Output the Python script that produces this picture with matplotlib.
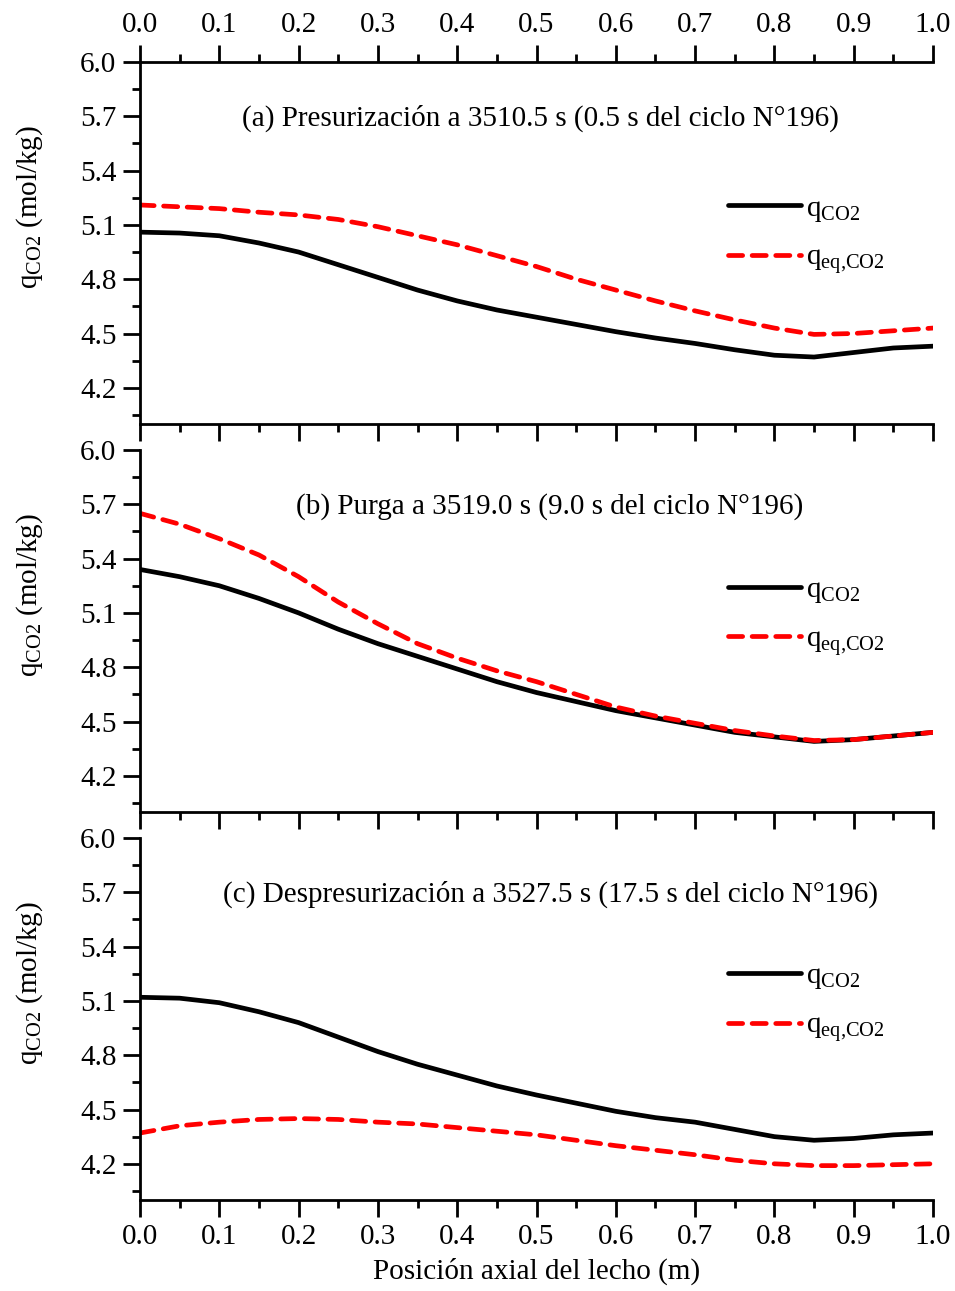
import matplotlib
matplotlib.use("Agg")
import matplotlib.pyplot as plt
from matplotlib.ticker import MultipleLocator, FormatStrFormatter

plt.rcParams['font.family'] = ['Liberation Serif', 'DejaVu Serif']
plt.rcParams['mathtext.fontset'] = 'custom'
plt.rcParams['mathtext.rm'] = 'Liberation Serif'
plt.rcParams['mathtext.it'] = 'Liberation Serif:italic'

x = [0.0, 0.05, 0.1, 0.15, 0.2, 0.25, 0.3, 0.35, 0.4, 0.45, 0.5,
     0.55, 0.6, 0.65, 0.7, 0.75, 0.8, 0.85, 0.9, 0.95, 1.0]

# (a) presurizacion
q_a = [5.06, 5.055, 5.04, 5.00, 4.95, 4.88, 4.81, 4.74, 4.68, 4.63, 4.59,
       4.55, 4.51, 4.475, 4.445, 4.41, 4.38, 4.37, 4.395, 4.42, 4.43]
qeq_a = [5.21, 5.20, 5.19, 5.17, 5.155, 5.13, 5.09, 5.04, 4.99, 4.93, 4.87,
         4.80, 4.74, 4.68, 4.625, 4.575, 4.53, 4.495, 4.50, 4.515, 4.53]

# (b) purga
q_b = [5.34, 5.30, 5.25, 5.18, 5.10, 5.01, 4.93, 4.86, 4.79, 4.72, 4.66,
       4.61, 4.56, 4.52, 4.48, 4.44, 4.415, 4.39, 4.40, 4.42, 4.44]
qeq_b = [5.65, 5.59, 5.51, 5.42, 5.30, 5.16, 5.04, 4.93, 4.85, 4.78, 4.72,
         4.65, 4.58, 4.53, 4.49, 4.45, 4.42, 4.395, 4.40, 4.42, 4.44]

# (c) despresurizacion
q_c = [5.12, 5.115, 5.09, 5.04, 4.98, 4.90, 4.82, 4.75, 4.69, 4.63, 4.58,
       4.535, 4.49, 4.455, 4.43, 4.39, 4.35, 4.33, 4.34, 4.36, 4.37]
qeq_c = [4.37, 4.41, 4.43, 4.445, 4.45, 4.445, 4.43, 4.42, 4.40, 4.38, 4.36,
         4.33, 4.30, 4.275, 4.25, 4.22, 4.20, 4.19, 4.19, 4.195, 4.20]

yticks = [4.2, 4.5, 4.8, 5.1, 5.4, 5.7, 6.0]

titles = ["(a) Presurización a 3510.5 s (0.5 s del ciclo N°196)",
          "(b) Purga a 3519.0 s (9.0 s del ciclo N°196)",
          "(c) Despresurización a 3527.5 s (17.5 s del ciclo N°196)"]
series = [(q_a, qeq_a), (q_b, qeq_b), (q_c, qeq_c)]

fig = plt.figure(figsize=(9.55, 12.91), dpi=100)
left, width, height = 140 / 955, 793 / 955, 362 / 1291
tops = [62, 450, 838]
title_x = [0.505, 0.517, 0.518]
leg_y = [0.632, 0.65, 0.655]

fs = 21
for i, (q, qeq) in enumerate(series):
    ax = fig.add_axes([left, 1 - (tops[i] + 362) / 1291, width, height])
    ax.plot(x, q, color='black', lw=3.4, solid_capstyle='round',
            label=r'q$_{\mathrm{CO2}}$')
    ax.plot(x, qeq, color='red', lw=3.4, dashes=(3.0, 2.0),
            dash_capstyle='round', label=r'q$_{\mathrm{eq{,}CO2}}$')
    ax.set_xlim(0, 1)
    ax.set_ylim(4.0, 6.0)
    ax.xaxis.set_major_locator(MultipleLocator(0.1))
    ax.xaxis.set_minor_locator(MultipleLocator(0.05))
    ax.yaxis.set_minor_locator(MultipleLocator(0.15))
    ax.set_yticks(yticks)
    ax.set_yticklabels(['%.1f' % v for v in yticks])
    ax.xaxis.set_major_formatter(FormatStrFormatter('%.1f'))
    ax.spines['right'].set_visible(False)
    for s in ['left', 'bottom', 'top']:
        ax.spines[s].set_linewidth(2.0)
    ax.spines['top'].set_visible(i == 0)
    ax.tick_params(which='both', direction='out', width=2.0, labelsize=fs,
                   top=(i == 0), labeltop=(i == 0),
                   labelbottom=(i == 2), right=False)
    ax.tick_params(which='major', length=12, pad=5)
    ax.tick_params(which='minor', length=6)
    ax.set_ylabel(r'q$_{\mathrm{CO2}}$ (mol/kg)', fontsize=fs)
    ax.yaxis.set_label_coords(-0.12, 0.6)
    ax.text(title_x[i], 0.845, titles[i], transform=ax.transAxes,
            ha='center', va='center', fontsize=fs)
    ax.legend(loc='upper left', bbox_to_anchor=(0.741, leg_y[i]), frameon=False,
              fontsize=fs, handlelength=2.5, handletextpad=0.2,
              labelspacing=0.72, borderpad=0, borderaxespad=0)
    if i == 2:
        ax.set_xlabel('Posición axial del lecho (m)', fontsize=fs, labelpad=6)

fig.savefig('out.png', dpi=100)
